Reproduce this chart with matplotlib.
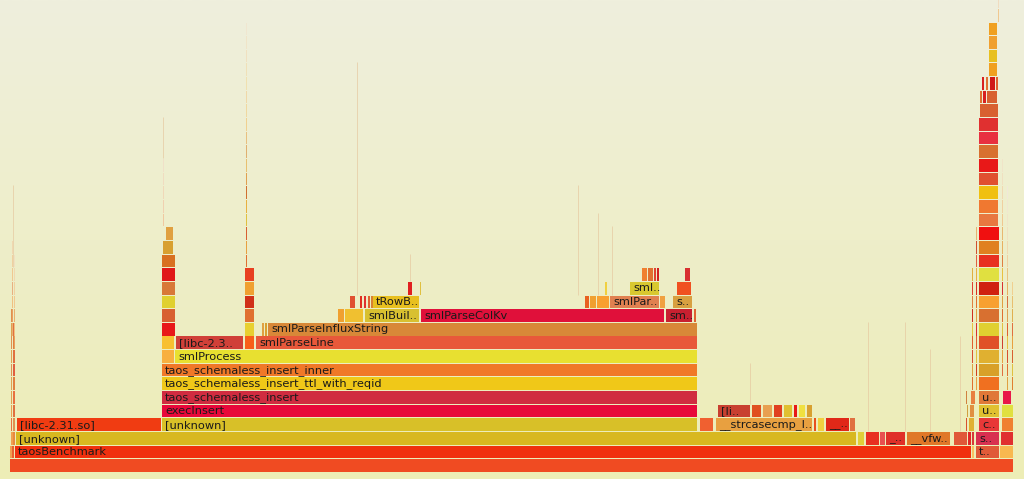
import numpy as np
import matplotlib
matplotlib.use("Agg")
import matplotlib.pyplot as plt
from matplotlib.colors import LinearSegmentedColormap

# ---------------- data: flame graph frames (depth, start sample, samples, label) ----------------
frames = [
    # depth 0
    (0, 0, 1004, ""),
    # depth 1
    (1, 0, 2, ""), (1, 2, 3, ""), (1, 5, 957, "taosBenchmark"), (1, 962, 3, ""),
    (1, 966, 24, "t.."), (1, 990, 14, ""),
    # depth 2
    (2, 1, 2, ""), (2, 3, 3, ""), (2, 6, 841, "[unknown]"), (2, 848, 7, ""), (2, 856, 14, ""),
    (2, 870, 6, ""), (2, 876, 20, "_.."), (2, 897, 44, "__vfw.."), (2, 944, 14, ""),
    (2, 958, 4, ""), (2, 962, 3, ""), (2, 966, 24, "s.."), (2, 991, 13, ""),
    # depth 3
    (3, 1, 1.5, ""), (3, 3, 2, ""), (3, 7, 145, "[libc-2.31.so]"), (3, 152, 536, "[unknown]"),
    (3, 690, 14, ""), (3, 706, 97, "__strcasecmp_l.."), (3, 804, 3, ""), (3, 808, 7, ""),
    (3, 816, 24, "__.."), (3, 840, 6, ""), (3, 956, 1, ""), (3, 959, 6, ""),
    (3, 969, 21, "c.."), (3, 992, 12, ""),
    # depth 4
    (4, 1, 1.5, ""), (4, 3, 2, ""), (4, 152, 536, "execInsert"), (4, 708, 33, "[li.."),
    (4, 742, 10, ""), (4, 753, 10, ""), (4, 764, 9, ""), (4, 774, 9, ""), (4, 784, 4, ""),
    (4, 789, 7, ""), (4, 797, 6, ""), (4, 957, 1, ""), (4, 960, 5, ""),
    (4, 969, 21, "u.."), (4, 992, 12, ""),
    # depth 5
    (5, 1, 1.5, ""), (5, 3, 2, ""), (5, 152, 536, "taos_schemaless_insert"), (5, 956, 1, ""),
    (5, 961, 5, ""), (5, 969, 21, "u.."), (5, 993, 9, ""),
    # depth 6
    (6, 1, 1.5, ""), (6, 3, 2, ""), (6, 152, 536, "taos_schemaless_insert_ttl_with_reqid"),
    (6, 969, 21, ""),
    # depth 7
    (7, 1, 1.5, ""), (7, 3, 2, ""), (7, 152, 536, "taos_schemaless_insert_inner"), (7, 969, 21, ""),
    # depth 8
    (8, 1, 1.5, ""), (8, 3, 2, ""), (8, 152, 13, ""), (8, 165, 523, "smlProcess"), (8, 969, 21, ""),
    # depth 9
    (9, 1, 1.5, ""), (9, 3, 2, ""), (9, 152, 13, ""), (9, 166, 68, "[libc-2.3.."), (9, 235, 10, ""),
    (9, 246, 442, "smlParseLine"), (9, 969, 21, ""),
    # depth 10
    (10, 1, 1.5, ""), (10, 3, 2, ""), (10, 152, 14, ""), (10, 235, 10, ""), (10, 252, 2, ""),
    (10, 255, 2, ""), (10, 258, 430, "smlParseInfluxString"), (10, 969, 21, ""),
    # depth 11
    (11, 1, 1.5, ""), (11, 152, 14, ""), (11, 235, 10, ""), (11, 328, 7, ""), (11, 335, 19, ""),
    (11, 355, 55, "smlBuil.."), (11, 411, 244, "smlParseColKv"), (11, 656, 27, "sm.."),
    (11, 684, 3, ""), (11, 969, 21, ""),
    # depth 12
    (12, 152, 14, ""), (12, 235, 10, ""), (12, 340, 6, ""), (12, 350, 2, ""), (12, 354, 2, ""),
    (12, 358, 2, ""), (12, 361, 2, ""), (12, 363, 47, "tRowB.."), (12, 575, 5, ""),
    (12, 580, 7, ""), (12, 587, 13, ""), (12, 600, 50, "smlPar.."), (12, 650, 6, ""),
    (12, 663, 20, "s.."), (12, 969, 21, ""),
    # depth 13
    (13, 152, 14, ""), (13, 235, 10, ""), (13, 398, 5, ""), (13, 410, 1.5, ""), (13, 595, 2, ""),
    (13, 620, 30, "sml.."), (13, 667, 15, ""), (13, 969, 21, ""),
    # depth 14
    (14, 152, 14, ""), (14, 235, 10, ""), (14, 632, 6, ""), (14, 638, 6, ""), (14, 644, 3, ""),
    (14, 647, 3, ""), (14, 675, 6, ""), (14, 969, 21, ""),
    # depth 15
    (15, 152, 14, ""), (15, 969, 21, ""),
    # depth 16
    (16, 153, 11, ""), (16, 969, 21, ""),
    # depth 17
    (17, 156, 8, ""), (17, 969, 21, ""),
    # depth 18-26 (right tower)
    (18, 969, 20, ""), (19, 969, 20, ""), (20, 969, 20, ""), (21, 969, 20, ""), (22, 969, 20, ""),
    (23, 969, 20, ""), (24, 969, 20, ""), (25, 969, 20, ""), (26, 970, 19, ""),
    # depth 27-32
    (27, 970, 3, ""), (27, 973, 4, ""), (27, 977, 11, ""),
    (28, 972, 3, ""), (28, 976, 3, ""), (28, 980, 6, ""), (28, 986, 2, ""),
    (29, 979, 9, ""), (30, 979, 9, ""), (31, 979, 9, ""), (32, 979, 9, ""),
]

frame_colors = [
    "#f04b22",
    "#f0a050", "#e86030", "#f0300e", "#f8c060", "#e05a38", "#f8b850",
    "#f0a050", "#e88840", "#d8b820", "#e0d038", "#e83020", "#e85050", "#e03028", "#e07828",
    "#e05838", "#e02828", "#d83838", "#d83050", "#e03030",
    "#e87040", "#e09050", "#f03c12", "#d8c028", "#f06030", "#e8a040", "#e85020", "#f0d040",
    "#e02818", "#e07040", "#d85030", "#e0b030", "#e83838", "#f08030",
    "#e8a050", "#e07040", "#e8083a", "#c84030", "#e05020", "#e8a050", "#e04020", "#e0c030",
    "#e81818", "#f0e040", "#d8a030", "#d0a040", "#e09040", "#e0c030", "#e0e040",
    "#e0a050", "#e87040", "#d02c40", "#d08040", "#e88040", "#e07838", "#e81848",
    "#e0a050", "#e08040", "#f0c818", "#f07020",
    "#e09050", "#e06040", "#f07828", "#d8a028",
    "#e0a050", "#e07040", "#f8b040", "#e8e030", "#e0b030",
    "#e09050", "#e08040", "#f8c030", "#d04038", "#f86018", "#e8583a", "#e05028",
    "#e0a050", "#e07040", "#e81818", "#e8d030", "#e0a040", "#d8a030", "#d88838", "#e0d030",
    "#e09050", "#d86030", "#e07030", "#f0a030", "#f0c030", "#d8c030", "#e0103a", "#c82030",
    "#e06030", "#d87030",
    "#e0d030", "#d03018", "#e05030", "#e03020", "#e03030", "#e06030", "#d88030", "#e8c020",
    "#e86020", "#f0a030", "#f8a030", "#e08050", "#f0a040", "#d8a040", "#f8a030",
    "#d87838", "#f0a030", "#e02020", "#e0c040", "#f0d040", "#d8c830", "#f05020", "#d02010",
    "#e01818", "#e84020", "#f08030", "#e07030", "#e04030", "#d02020", "#d83030", "#e0e040",
    "#d87020", "#e83020",
    "#d8a030", "#e08020",
    "#e0a040", "#f01010",
    "#e87840", "#f07830", "#f0c010", "#e05030", "#e81818", "#d87030", "#e83040", "#e03030",
    "#d86030",
    "#e07030", "#d82020", "#d86030",
    "#d82020", "#e07030", "#d01818", "#e06030",
    "#f0a020", "#e8c020", "#f0a030", "#f0a020",
]

# thin single-sample columns (x sample, first depth, colours upward)
thin_x = [1.5, 4.0, 236.0, 152.5, 961.5, 966.0, 992.0, 997.0, 1002.0, 987.5]
thin_first_depth = [10, 9, 15, 18, 6, 6, 7, 6, 6, 33]
thin_colors = [
    ["#e8b070", "#e8a060", "#f0c080", "#e8b080", "#f0c890", "#f0d0a0", "#f0d8b0"],
    ["#e8a060", "#f0c080", "#e8b070", "#f0c890", "#f0d0a0", "#f0d8b0", "#f0e0c0"],
    ["#e07030", "#e8a040", "#d86030", "#e0c040", "#e8b040", "#d07030", "#e0a050",
     "#e8c070", "#e0b070", "#e8c080", "#f0d090", "#f0d8a0", "#f0d8a8", "#f0e0b0",
     "#f0e0b8", "#f0e0c0", "#f0e4c8", "#f0e6d0"],
    ["#f0c8a0", "#f0d0b0", "#f0d8b8", "#f0dcc0", "#f0e0c8"],
    ["#e07030", "#e0a040", "#d85030", "#e06030", "#e8c040", "#d03020", "#e08040",
     "#e04030", "#e0b040"],
    ["#e8a040", "#d04020", "#e0c040", "#e06030", "#d83030", "#e0a040", "#e07030",
     "#d83020", "#e8b040", "#e06040", "#d05030", "#e8b070"],
    ["#e07040", "#e8a040", "#d04030", "#e0c040", "#e07030", "#e0a040", "#d83030",
     "#e8c040", "#e08040", "#e8b060", "#e8b870", "#f0c890", "#f0d0a0", "#f0d8b0",
     "#f0e0c0", "#f0e4c8"],
    ["#e0a040", "#e07030", "#d85030", "#e8c040", "#e06030", "#e0a050", "#d87040",
     "#e8b060", "#e8c080", "#f0d0a0", "#f0d8b0", "#f0e0c0", "#f0e4c8", "#f0e6d0",
     "#f0e8d8"],
    ["#e08030", "#e0c040", "#d86030", "#e8a040", "#e07040", "#e0b050", "#e8c070",
     "#f0d090"],
    ["#f0c890", "#f0dcc0"],
]

# faint hairline call stacks (x sample, lowest depth, highest depth)
hair_x = [347, 568, 588, 602, 400, 740, 858, 895, 920, 950, 3, 152.5, 987.5]
hair_lo = [13, 13, 13, 13, 14, 5, 3, 3, 3, 3, 15, 23, 35]
hair_hi = [30, 21, 19, 18, 16, 8, 11, 11, 9, 10, 21, 26, 35.6]

# ---------------- drawing ----------------
ROW_PITCH = 13.65   # pixels per stack level
BAR_H = 0.93
W, H = 1024, 479
fig = plt.figure(figsize=(W / 100, H / 100), dpi=100)
ax = fig.add_axes([0, 0, 1, 1])
x0, x1 = -10, 1014
y0 = -7 / ROW_PITCH
y1 = y0 + H / ROW_PITCH
ax.set_xlim(x0, x1)
ax.set_ylim(y0, y1)
ax.axis("off")

# background gradient
bg = LinearSegmentedColormap.from_list("bg", ["#ededb6", "#efefdd"])
grad = np.linspace(0, 1, 256).reshape(-1, 1)
ax.imshow(grad, extent=[x0, x1, y0, y1], origin="lower", aspect="auto", cmap=bg, zorder=0)

assert len(frames) == len(frame_colors)
depths = np.array([f[0] for f in frames], dtype=float)
starts = np.array([f[1] for f in frames], dtype=float)
widths = np.array([f[2] for f in frames], dtype=float)
gap = np.where(widths > 2.5, 0.8, 0.2)
ax.barh(depths, widths - gap, left=starts, height=BAR_H, align="edge",
        color=frame_colors, linewidth=0, zorder=2)

# thin columns
for tx, d0, cols in zip(thin_x, thin_first_depth, thin_colors):
    ds = d0 + np.arange(len(cols))
    ax.barh(ds, np.full(len(cols), 1.3), left=tx, height=BAR_H, align="edge",
            color=cols, linewidth=0, zorder=2)

# hairlines
for hx, lo, hi in zip(hair_x, hair_lo, hair_hi):
    ax.vlines(hx, lo, hi, colors="#e6c8a0", linewidth=0.6, alpha=0.8, zorder=1)

# labels
for (d, s, w, name) in frames:
    if name:
        ax.text(s + 3, d + BAR_H / 2 - 0.02, name, fontsize=8.2, family="DejaVu Sans",
                color="#1a1a1a", va="center", ha="left", zorder=3, clip_on=True)

fig.savefig("out.png", dpi=100)
